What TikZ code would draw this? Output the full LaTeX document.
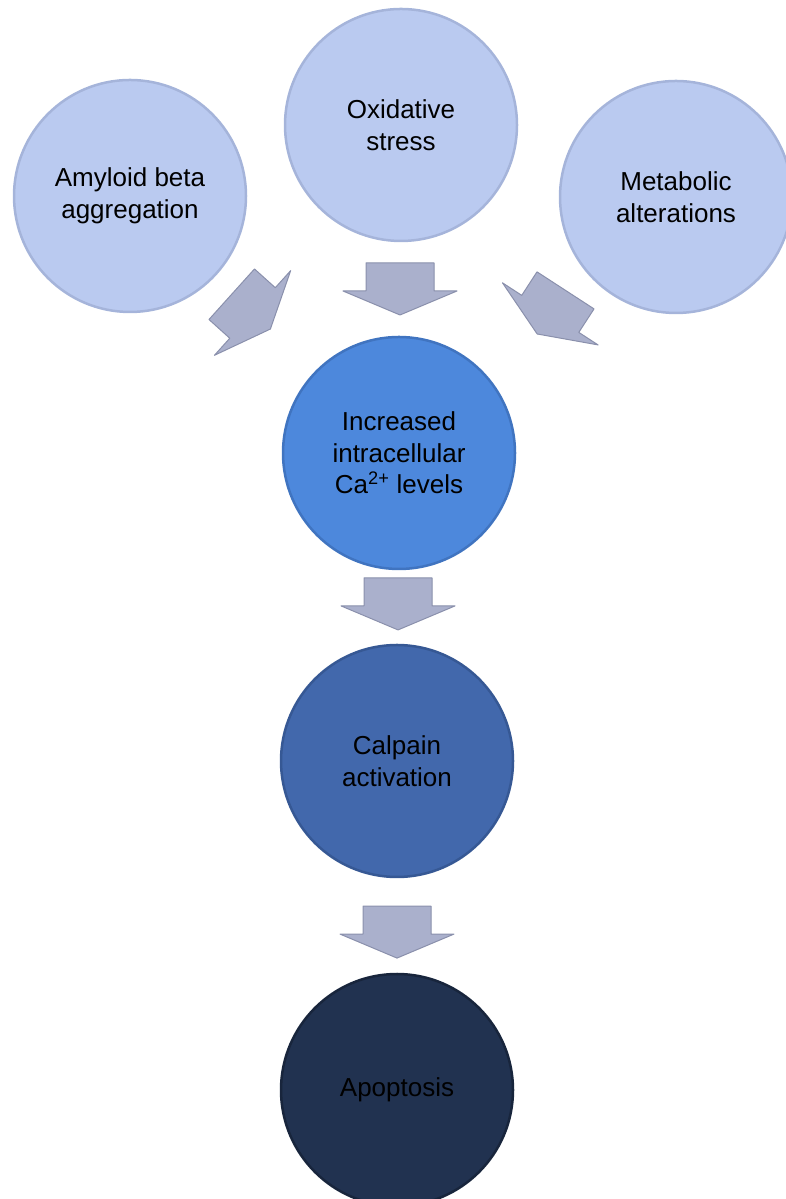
\documentclass[tikz,border=0pt]{standalone}
\usepackage{fontspec}
\setmainfont{Liberation Sans}
\usetikzlibrary{calc}
\definecolor{paleBlue}{RGB}{186,202,240}
\definecolor{paleRim}{RGB}{165,180,218}
\definecolor{midBlue}{RGB}{77,136,220}
\definecolor{midRim}{RGB}{64,116,192}
\definecolor{deepBlue}{RGB}{66,104,172}
\definecolor{deepRim}{RGB}{54,88,148}
\definecolor{nightBlue}{RGB}{33,50,80}
\definecolor{nightRim}{RGB}{24,37,60}
\definecolor{arrowFill}{RGB}{170,176,204}
\definecolor{arrowEdge}{RGB}{138,144,172}
\tikzstyle{bubbleStyle} = [circle, minimum size=232pt, inner sep=0pt, align=center, line width=2.5pt, text=black, font=\fontsize{26}{31.5}\selectfont]
\tikzstyle{paleBubble} = [bubbleStyle, fill=paleBlue, draw=paleRim]
\tikzstyle{arrowStyle} = [fill=arrowFill, draw=arrowEdge, line width=1pt, line join=round]
\newcommand{\flowArrow}[2]{
  \begin{scope}[shift={(#1)}, rotate=#2]
    \filldraw [arrowStyle] (-26,-34) -- (2,-34) -- (2,-57) -- (26,0) -- (2,57) -- (2,34) -- (-26,34) -- cycle;
  \end{scope}
}

\begin{document}
\begin{tikzpicture}[x=1pt, y=1pt]
  \useasboundingbox (0,0) rectangle (786,1199);
  \clip (0,0) rectangle (786,1199);

  \node [paleBubble] (amyloid) at (130,1003) {Amyloid beta\\aggregation};
  \node [paleBubble] (oxid) at (401,1074) {Oxidative\\stress};
  \node [paleBubble] (metab) at (676,1002) {Metabolic\\alterations};
  \node [bubbleStyle, fill=midBlue, draw=midRim] (incr) at (399,746) {Increased\\intracellular\\Ca\textsuperscript{2+} levels};
  \node [bubbleStyle, fill=deepBlue, draw=deepRim] (calpain) at (397,438) {Calpain\\activation};
  \node [bubbleStyle, fill=nightBlue, draw=nightRim] (apopt) at (397,109) {Apoptosis};

  \coordinate (leftIn) at ($(amyloid)!0.45!(incr)$);
  \coordinate (midIn) at ($(oxid)!0.5!(incr)$);
  \coordinate (rightIn) at ($(metab)!0.45!(incr)$);
  \coordinate (toCalpain) at ($(incr)!0.49!(calpain)$);
  \coordinate (toApopt) at ($(calpain)!0.52!(apopt)$);

  \flowArrow{leftIn}{-42}
  \flowArrow{midIn}{-90}
  \flowArrow{rightIn}{-123}
  \flowArrow{toCalpain}{-90}
  \flowArrow{toApopt}{-90}
\end{tikzpicture}
\end{document}
